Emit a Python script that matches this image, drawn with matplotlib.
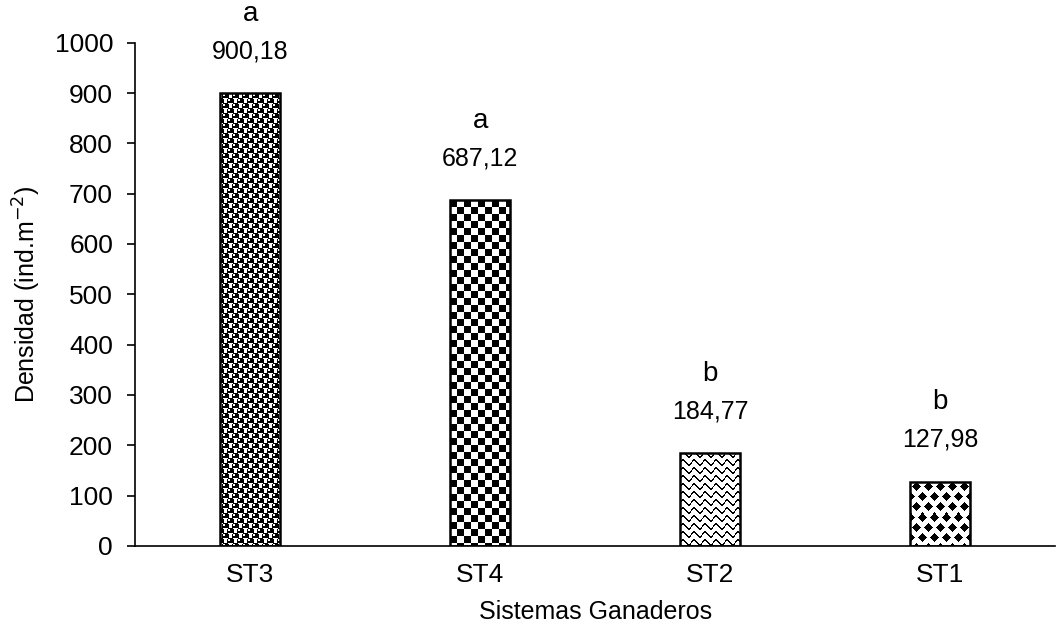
import numpy as np
import matplotlib
matplotlib.use("Agg")
import matplotlib.pyplot as plt

plt.rcParams['font.family'] = ['Liberation Sans', 'DejaVu Sans']

# data
categories = ['ST3', 'ST4', 'ST2', 'ST1']
densidad = [900.18, 687.12, 184.77, 127.98]
value_labels = ['900,18', '687,12', '184,77', '127,98']
letters = ['a', 'a', 'b', 'b']
patterns = ['balls', 'checker', 'waves', 'diamonds']


def make_texture(kind, h, w):
    ii, jj = np.mgrid[0:h, 0:w].astype(float)
    img = np.ones((h, w))
    if kind == 'checker':
        c = 7.0
        img[((ii // c) + (jj // c)) % 2 == 0] = 0
    elif kind == 'balls':
        sx, sy = 10.0, 5.0
        row = np.floor(ii / sy)
        off = (row % 2) * sx / 2
        dx = ((jj - off) % sx) - sx / 2
        dy = (ii % sy) - sy / 2
        r = np.hypot(dx, dy)
        img[r < 3.9] = 0
        img[np.hypot(dx + 1.3, dy + 1.0) < 0.9] = 1
    elif kind == 'waves':
        y = (ii + 2.6 * np.sin(2 * np.pi * jj / 11.0)) % 8.0
        img[y < 2.0] = 0
    elif kind == 'diamonds':
        sx, sy = 12.0, 10.0
        row = np.floor(ii / sy)
        off = (row % 2) * sx / 2
        dx = ((jj - off) % sx) - sx / 2
        dy = (ii % sy) - sy / 2
        img[np.abs(dx) + np.abs(dy) < 5.0] = 0
    return img


fig = plt.figure(figsize=(10.57, 6.37), dpi=100)
ax = fig.add_axes([0.128, 0.143, 0.870, 0.790])

x = np.arange(len(categories))
bars = ax.bar(x, densidad, width=0.26, facecolor='none', edgecolor='black',
              linewidth=1.8, zorder=3)

ax.set_xlim(-0.5, len(categories) - 0.5)
ax.set_ylim(0, 1000)
ax.set_yticks(np.arange(0, 1001, 100))
ax.set_xticks(x)
ax.set_xticklabels(categories, fontsize=19)
ax.tick_params(axis='y', labelsize=19, length=6, width=1.2, direction='out', pad=10)
ax.tick_params(axis='x', length=0, pad=12)
for s in ['top', 'right']:
    ax.spines[s].set_visible(False)
ax.spines['left'].set_linewidth(1.2)
ax.spines['bottom'].set_linewidth(1.2)

ax.set_ylabel('Densidad (ind.m$^{-2}$)', fontsize=18, labelpad=8)
ax.set_xlabel('Sistemas Ganaderos', fontsize=18, labelpad=10)

# fill each bar with its texture, clipped to the bar
for bar, kind in zip(bars, patterns):
    x0, y0 = bar.get_x(), bar.get_y()
    x1, y1 = x0 + bar.get_width(), y0 + bar.get_height()
    p0 = ax.transData.transform((x0, y0))
    p1 = ax.transData.transform((x1, y1))
    w = max(int(round(p1[0] - p0[0])), 2)
    h = max(int(round(p1[1] - p0[1])), 2)
    tex = make_texture(kind, h, w)
    im = ax.imshow(tex, cmap='gray', vmin=0, vmax=1, extent=[x0, x1, y0, y1],
                   aspect='auto', interpolation='nearest', zorder=2)
    im.set_clip_path(bar)

ax.set_xlim(-0.5, len(categories) - 0.5)
ax.set_ylim(0, 1000)

for xi, v, lab, let in zip(x, densidad, value_labels, letters):
    ax.annotate(lab, (xi, v), xytext=(0, 30), textcoords='offset points',
                ha='center', va='center', fontsize=18)
    ax.annotate(let, (xi, v), xytext=(0, 57), textcoords='offset points',
                ha='center', va='center', fontsize=20, annotation_clip=False)

fig.savefig('out.png', dpi=100)
